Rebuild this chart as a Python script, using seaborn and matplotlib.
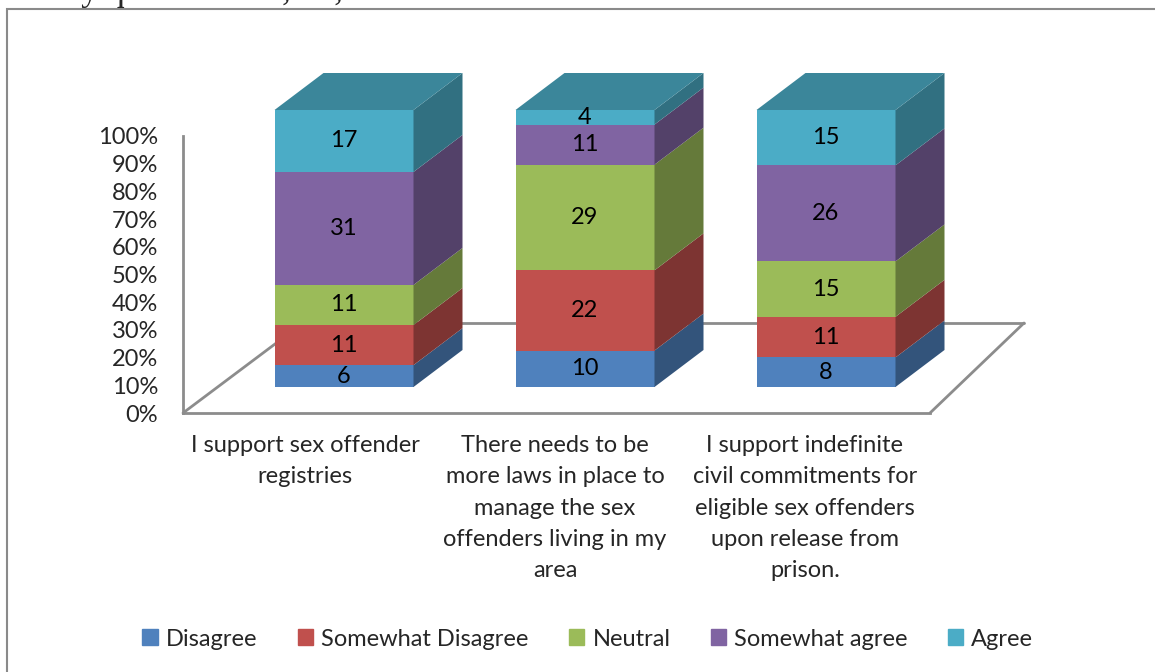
import numpy as np
import matplotlib
matplotlib.use("Agg")
import matplotlib.pyplot as plt
import matplotlib.patches as mpatches
from matplotlib.colors import to_rgb
import seaborn as sns

# Survey data (counts per response, stacked to 100%)
categories = [
    "I support sex offender\nregistries",
    "There needs to be\nmore laws in place to\nmanage the sex\noffenders living in my\narea",
    "I support indefinite\ncivil commitments for\neligible sex offenders\nupon release from\nprison.",
]
series = ["Disagree", "Somewhat Disagree", "Neutral", "Somewhat agree", "Agree"]
disagree = [6, 10, 8]
somewhat_disagree = [11, 22, 11]
neutral = [11, 29, 15]
somewhat_agree = [31, 11, 26]
agree = [17, 4, 15]
colors = ["#4F81BD", "#C0504D", "#9BBB59", "#8064A2", "#4BACC6"]

values = np.array([disagree, somewhat_disagree, neutral, somewhat_agree, agree], dtype=float)
pct = values / values.sum(axis=0) * 100

sns.set_theme(style="white")
plt.rcParams["font.family"] = ["Lato", "DejaVu Sans"]
FS = 17

W, H = 1155, 672
fig = plt.figure(figsize=(W / 100, H / 100), dpi=100)
ax = fig.add_axes([183 / W, (H - 413) / H, (930 - 183) / W, (413 - 136) / H])

px_x = 241.0                 # pixels per category step
xmin = (183 - 344) / px_x
xmax = (930 - 344) / px_x
px_y = (413 - 136) / 100.0

lift = 26 / px_y             # bars sit back from the front floor edge
bdx, bdy = 49 / px_x, 37 / px_y   # bar depth
bar_w = 139 / px_x

def shade(c, f):
    r, g, b = to_rgb(c)
    return (r * f, g * f, b * f)

# floor outline
fdy = 90 / px_y
fl, fr = 120 / px_x, 94 / px_x
floor_kw = dict(color="#8c8c8c", lw=2, zorder=0.5, clip_on=False)
ax.plot([xmin, xmin + fl], [0, fdy], **floor_kw)
ax.plot([xmax, xmax + fr], [0, fdy], **floor_kw)
ax.plot([xmin + fl, xmax + fr], [fdy, fdy], **floor_kw)

bottoms = np.full(len(categories), lift)
for i, name in enumerate(series):
    sns.barplot(x=categories, y=pct[i], bottom=bottoms, color=colors[i],
                saturation=1, width=bar_w, errorbar=None, ax=ax,
                linewidth=0, zorder=2, clip_on=False)
    for j in range(len(categories)):
        y0, y1 = bottoms[j], bottoms[j] + pct[i][j]
        xr = j + bar_w / 2
        side = mpatches.Polygon([(xr, y0), (xr + bdx, y0 + bdy), (xr + bdx, y1 + bdy), (xr, y1)],
                                closed=True, fc=shade(colors[i], 0.65), ec="none",
                                zorder=2, clip_on=False)
        ax.add_patch(side)
        ax.text(j, (y0 + y1) / 2, f"{int(values[i][j])}", ha="center", va="center",
                fontsize=FS, color="black", zorder=3, clip_on=False)
    bottoms = bottoms + pct[i]

# top faces
for j in range(len(categories)):
    xl, xr = j - bar_w / 2, j + bar_w / 2
    yt = bottoms[j]
    top = mpatches.Polygon([(xl, yt), (xr, yt), (xr + bdx, yt + bdy), (xl + bdx, yt + bdy)],
                           closed=True, fc=shade(colors[-1], 0.78), ec="none",
                           zorder=2, clip_on=False)
    ax.add_patch(top)

ax.set_xlim(xmin, xmax)
ax.set_ylim(0, 100)
ax.set_yticks(np.arange(0, 101, 10))
ax.set_yticklabels([f"{t}%" for t in range(0, 101, 10)], fontsize=FS)
label_px = np.array([305, 555, 805])
ax.set_xticks((label_px - 344) / px_x)
ax.set_xticklabels(categories, fontsize=FS, linespacing=1.6, va="top")
ax.tick_params(axis="y", length=0, pad=18)
ax.tick_params(axis="x", length=0, pad=16)
ax.set_xlabel("")
ax.set_ylabel("")
for s in ["top", "right"]:
    ax.spines[s].set_visible(False)
for s in ["left", "bottom"]:
    ax.spines[s].set_color("#8c8c8c")
    ax.spines[s].set_linewidth(2)
ax.patch.set_alpha(0)

handles = [mpatches.Patch(color=c, label=s) for c, s in zip(colors, series)]
fig.legend(handles=handles, loc="center", bbox_to_anchor=(0.509, 0.049), ncol=5,
           frameon=False, fontsize=FS, handlelength=0.65, handleheight=0.65,
           handletextpad=0.35, columnspacing=1.7)

# chart-area border and clipped caption from the page above
fig.patches.append(mpatches.Rectangle((7 / W, -0.1), 2, (H - 9) / H + 0.1,
                                      transform=fig.transFigure, fill=False,
                                      ec="#8a8a8a", lw=1.5))
fig.text(0.0, (H - 0.5) / H, "Survey questions 14, 15, and 16 results",
         fontsize=25, family="Liberation Serif", va="baseline")

fig.savefig("out.png", dpi=100)
